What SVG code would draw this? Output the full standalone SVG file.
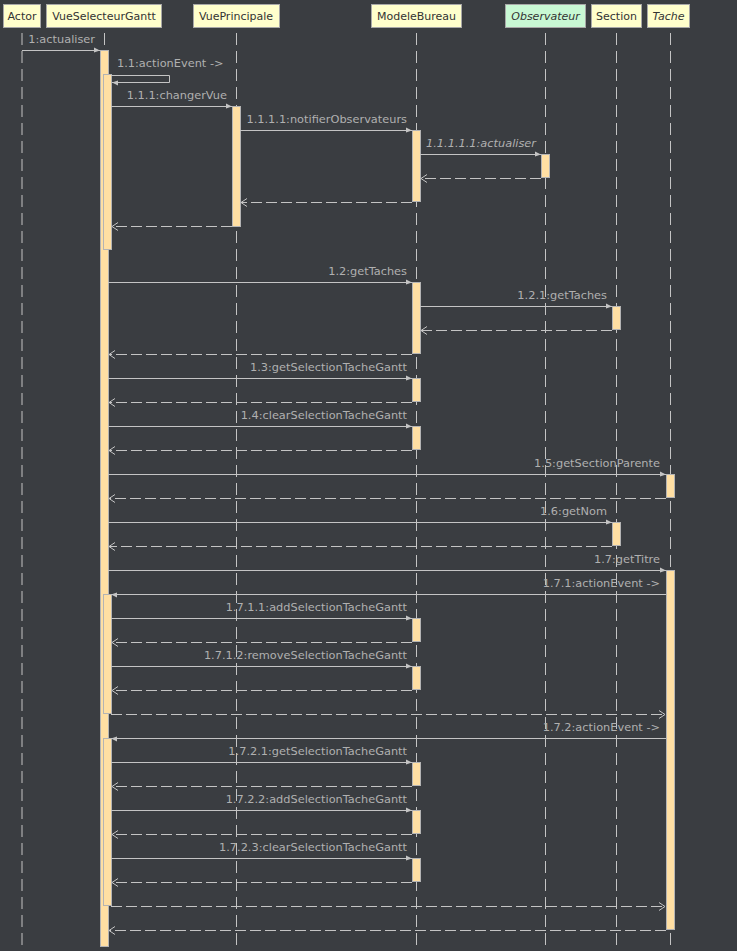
<svg xmlns="http://www.w3.org/2000/svg" width="737" height="951" viewBox="0 0 737 951">
<style>
text{font-family:"DejaVu Sans","Liberation Sans",sans-serif;font-size:11.35px}
.hd{fill:#ffffcc;stroke:#a8a8a8;stroke-width:1}
.hdg{fill:#c8f8d4;stroke:#a8a8a8;stroke-width:1}
.ht{fill:#333;text-anchor:middle;font-size:11px}
.it{font-style:italic}
.ll{stroke:#c4c4c4;stroke-width:1;stroke-dasharray:12,6;fill:none}
.bar{fill:#ffdfa3;stroke:#b4b4b4;stroke-width:1}
.call{stroke:#c4c4c4;stroke-width:1;fill:none;marker-end:url(#ah)}
.ret{stroke:#c4c4c4;stroke-width:1;fill:none;stroke-dasharray:11,4;marker-end:url(#oh)}
.lb{fill:#b0b0b0;text-anchor:end}
.lbs{fill:#b0b0b0}
</style>
<defs>
<marker id="ah" viewBox="-8 -5 9 10" refX="0" refY="0" markerWidth="9" markerHeight="10" markerUnits="userSpaceOnUse" orient="auto">
<path d="M0,0 L-6,-3 L-6,2 Z" fill="#c4c4c4"/>
</marker>
<marker id="oh" viewBox="-8 -5 9 10" refX="0" refY="0" markerWidth="9" markerHeight="10" markerUnits="userSpaceOnUse" orient="auto">
<path d="M-6,-4 L0,0 L-6,4" fill="none" stroke="#c4c4c4" stroke-width="1"/>
</marker>
</defs>
<rect x="0" y="0" width="737" height="951" fill="#3a3d41"/>

<g id="Actor">
<rect class="hd" x="3.5" y="4.5" width="37" height="23"/>
<text class="ht" x="22" y="20">Actor</text>
<line class="ll" x1="22" y1="33" x2="22" y2="945"/>
</g>
<g id="VueSelecteurGantt">
<rect class="hd" x="46.5" y="4.5" width="115" height="23"/>
<text class="ht" x="104" y="20">VueSelecteurGantt</text>
<line class="ll" x1="104.5" y1="33" x2="104.5" y2="945"/>
<rect class="bar" x="100.5" y="50.5" width="8" height="896"/>
<rect class="bar" x="103.5" y="74.5" width="8" height="175"/>
<rect class="bar" x="103.5" y="594.5" width="8" height="119"/>
<rect class="bar" x="103.5" y="738.5" width="8" height="167"/>
</g>
<g id="VuePrincipale">
<rect class="hd" x="193.5" y="4.5" width="86" height="23"/>
<text class="ht" x="236" y="20">VuePrincipale</text>
<line class="ll" x1="236.5" y1="33" x2="236.5" y2="945"/>
<rect class="bar" x="232.5" y="106.5" width="8" height="120"/>
</g>
<g id="ModeleBureau">
<rect class="hd" x="371.5" y="4.5" width="90" height="23"/>
<text class="ht" x="416.5" y="20">ModeleBureau</text>
<line class="ll" x1="416.5" y1="33" x2="416.5" y2="945"/>
<rect class="bar" x="412.5" y="130.5" width="8" height="71"/>
<rect class="bar" x="412.5" y="282.5" width="8" height="71"/>
<rect class="bar" x="412.5" y="378.5" width="8" height="23"/>
<rect class="bar" x="412.5" y="426.5" width="8" height="23"/>
<rect class="bar" x="412.5" y="618.5" width="8" height="23"/>
<rect class="bar" x="412.5" y="666.5" width="8" height="23"/>
<rect class="bar" x="412.5" y="762.5" width="8" height="23"/>
<rect class="bar" x="412.5" y="810.5" width="8" height="23"/>
<rect class="bar" x="412.5" y="858.5" width="8" height="23"/>
</g>
<g id="Observateur">
<rect class="hdg" x="505.5" y="4.5" width="80" height="23"/>
<text class="ht it" x="545.5" y="20">Observateur</text>
<line class="ll" x1="545.5" y1="33" x2="545.5" y2="945"/>
<rect class="bar" x="541.5" y="154.5" width="8" height="23"/>
</g>
<g id="Section">
<rect class="hd" x="591.5" y="4.5" width="50" height="23"/>
<text class="ht" x="616.5" y="20">Section</text>
<line class="ll" x1="616.5" y1="33" x2="616.5" y2="945"/>
<rect class="bar" x="612.5" y="306.5" width="8" height="23"/>
<rect class="bar" x="612.5" y="522.5" width="8" height="23"/>
</g>
<g id="Tache">
<rect class="hd" x="647.5" y="4.5" width="42" height="23"/>
<text class="ht it" x="668.5" y="20">Tache</text>
<line class="ll" x1="670.5" y1="33" x2="670.5" y2="945"/>
<rect class="bar" x="666.5" y="474.5" width="8" height="23"/>
<rect class="bar" x="666.5" y="570.5" width="8" height="359"/>
</g>

<g id="connectors">
<line class="call" x1="22" y1="50.5" x2="100" y2="50.5"/>
<text class="lb" x="95" y="43">1:actualiser</text>
<polyline class="call" points="111,75.5 169.5,75.5 169.5,82.5 112,82.5"/>
<text class="lbs" x="117" y="67">1.1:actionEvent -&gt;</text>
<line class="call" x1="111" y1="106.5" x2="232" y2="106.5"/>
<text class="lb" x="227" y="99">1.1.1:changerVue</text>
<line class="call" x1="240" y1="130.5" x2="412" y2="130.5"/>
<text class="lb" x="407" y="123">1.1.1.1:notifierObservateurs</text>
<line class="call" x1="420" y1="154.5" x2="541" y2="154.5"/>
<text class="lb it" x="536" y="147">1.1.1.1.1:actualiser</text>
<line class="ret" x1="541" y1="178.5" x2="421" y2="178.5"/>
<line class="ret" x1="412" y1="202.5" x2="241" y2="202.5"/>
<line class="ret" x1="232" y1="226.5" x2="112" y2="226.5"/>

<line class="call" x1="108" y1="282.5" x2="412" y2="282.5"/>
<text class="lb" x="407" y="275">1.2:getTaches</text>
<line class="call" x1="420" y1="306.5" x2="612" y2="306.5"/>
<text class="lb" x="607" y="299">1.2.1:getTaches</text>
<line class="ret" x1="612" y1="330.5" x2="421" y2="330.5"/>
<line class="ret" x1="412" y1="354.5" x2="109" y2="354.5"/>

<line class="call" x1="108" y1="378.5" x2="412" y2="378.5"/>
<text class="lb" x="407" y="371">1.3:getSelectionTacheGantt</text>
<line class="ret" x1="412" y1="402.5" x2="109" y2="402.5"/>

<line class="call" x1="108" y1="426.5" x2="412" y2="426.5"/>
<text class="lb" x="407" y="419">1.4:clearSelectionTacheGantt</text>
<line class="ret" x1="412" y1="450.5" x2="109" y2="450.5"/>

<line class="call" x1="108" y1="474.5" x2="666" y2="474.5"/>
<text class="lb" x="660" y="467">1.5:getSectionParente</text>
<line class="ret" x1="666" y1="498.5" x2="109" y2="498.5"/>

<line class="call" x1="108" y1="522.5" x2="612" y2="522.5"/>
<text class="lb" x="607" y="515">1.6:getNom</text>
<line class="ret" x1="612" y1="546.5" x2="109" y2="546.5"/>

<line class="call" x1="108" y1="570.5" x2="666" y2="570.5"/>
<text class="lb" x="660" y="563">1.7:getTitre</text>

<line class="call" x1="666" y1="594.5" x2="111" y2="594.5"/>
<text class="lb" x="660" y="587">1.7.1:actionEvent -&gt;</text>
<line class="call" x1="111" y1="618.5" x2="412" y2="618.5"/>
<text class="lb" x="407" y="611">1.7.1.1:addSelectionTacheGantt</text>
<line class="ret" x1="412" y1="642.5" x2="112" y2="642.5"/>
<line class="call" x1="111" y1="666.5" x2="412" y2="666.5"/>
<text class="lb" x="407" y="659">1.7.1.2:removeSelectionTacheGantt</text>
<line class="ret" x1="412" y1="690.5" x2="112" y2="690.5"/>
<line class="ret" x1="111" y1="714.5" x2="665" y2="714.5"/>

<line class="call" x1="666" y1="738.5" x2="111" y2="738.5"/>
<text class="lb" x="660" y="731">1.7.2:actionEvent -&gt;</text>
<line class="call" x1="111" y1="762.5" x2="412" y2="762.5"/>
<text class="lb" x="407" y="755">1.7.2.1:getSelectionTacheGantt</text>
<line class="ret" x1="412" y1="786.5" x2="112" y2="786.5"/>
<line class="call" x1="111" y1="810.5" x2="412" y2="810.5"/>
<text class="lb" x="407" y="803">1.7.2.2:addSelectionTacheGantt</text>
<line class="ret" x1="412" y1="834.5" x2="112" y2="834.5"/>
<line class="call" x1="111" y1="858.5" x2="412" y2="858.5"/>
<text class="lb" x="407" y="851">1.7.2.3:clearSelectionTacheGantt</text>
<line class="ret" x1="412" y1="882.5" x2="112" y2="882.5"/>
<line class="ret" x1="111" y1="906.5" x2="665" y2="906.5"/>
<line class="ret" x1="666" y1="930.5" x2="109" y2="930.5"/>
</g>
</svg>
